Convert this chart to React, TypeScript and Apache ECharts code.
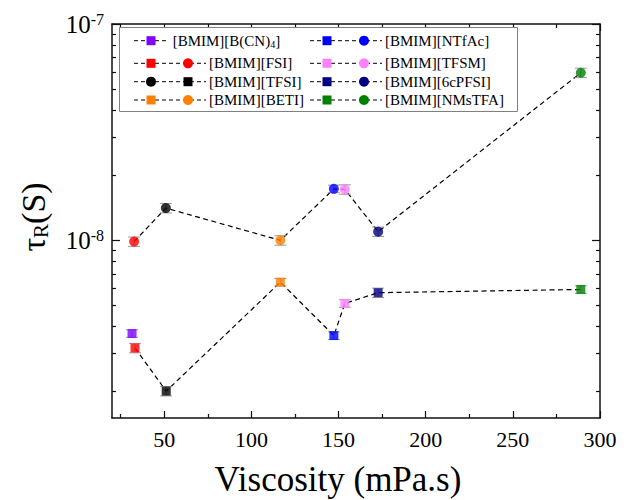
import React, { useEffect, useRef } from 'react';
import * as echarts from 'echarts';

// ---------- data ----------
const compounds = ['[BMIM][B(CN)4]', '[BMIM][FSI]', '[BMIM][TFSI]', '[BMIM][BETI]', '[BMIM][NTfAc]', '[BMIM][TFSM]', '[BMIM][6cPFSI]', '[BMIM][NMsTFA]'];
const colors = ['#8000FF', '#FF0000', '#000000', '#FF8000', '#0000FF', '#FF80FF', '#000080', '#008000'];
// square markers (lower branch)
const squareViscosity = [31.5, 33.2, 51.1, 116.6, 147.3, 153.6, 172.7, 289];
const squareTau = [3.71e-9, 3.18e-9, 2.01e-9, 6.41e-9, 3.63e-9, 5.11e-9, 5.73e-9, 5.93e-9];
const squareErr = [0.04, 0.05, 0.05, 0.04, 0.04, 0.04, 0.05, 0.04];
// circle markers (upper branch)
const circleViscosity = [null, 32.7, 50.9, 116.6, 147.3, 153.6, 172.7, 289];
const circleTau = [null, 9.87e-9, 1.41e-8, 1.0e-8, 1.73e-8, 1.72e-8, 1.097e-8, 5.95e-8];
const circleErr = [null, 0.05, 0.05, 0.05, 0.04, 0.05, 0.05, 0.05];
// axes
const xMin = 20;
const xMax = 300;
const xMajorTicks = [50, 100, 150, 200, 250, 300];
const xMinorTicks = [25, 75, 125, 175, 225, 275];
const yMin = 1.51e-9;
const yMax = 1e-7;
const yMajorTicks = [1e-8, 1e-7];
const yMinorTicks = [2e-9, 3e-9, 4e-9, 5e-9, 6e-9, 7e-9, 8e-9, 9e-9, 2e-8, 3e-8, 4e-8, 5e-8, 6e-8, 7e-8, 8e-8, 9e-8];
const xTitle = 'Viscosity (mPa.s)';

const FONT = "'Liberation Serif', 'Times New Roman', serif";
const lg = (v: number) => Math.log10(v);

export default function App() {
  const ref = useRef<HTMLDivElement>(null);
  useEffect(() => {
    if (!ref.current) return;
    const chart = echarts.init(ref.current, null, { renderer: 'svg' });

    const axisLine = { show: true, onZero: false, lineStyle: { color: '#111', width: 1.5 } };
    const tickStyle = { color: '#111', width: 1.2 };
    const mkX = (pos: string, major: boolean, labels: boolean) => ({
      type: 'value', gridIndex: 0, position: pos, min: xMin, max: xMax,
      axisLine: major ? axisLine : { show: false, onZero: false },
      axisTick: { show: true, inside: true, length: major ? 7 : 4, lineStyle: tickStyle, customValues: major ? xMajorTicks : xMinorTicks },
      axisLabel: labels
        ? {
            show: true, customValues: xMajorTicks, margin: 9,
            formatter: (v: number) => `{d|${v}}`,
            rich: { d: { fontFamily: FONT, fontSize: 22, lineHeight: 24, color: '#000' } },
          }
        : { show: false },
      splitLine: { show: false },
    });
    const mkY = (pos: string, major: boolean, labels: boolean) => ({
      type: 'value', gridIndex: 0, position: pos, min: lg(yMin), max: lg(yMax),
      axisLine: major ? axisLine : { show: false, onZero: false },
      axisTick: { show: true, inside: true, length: major ? 8 : 4, lineStyle: tickStyle, customValues: (major ? yMajorTicks : yMinorTicks).map(lg) },
      axisLabel: labels
        ? {
            show: true,
            customValues: yMajorTicks.map(lg),
            margin: 8,
            formatter: (v: number) => `{b|10}{s|${Math.round(v)}}`,
            rich: {
              b: { fontFamily: FONT, fontSize: 25, lineHeight: 26, color: '#000', padding: [4, 0, 0, 0], verticalAlign: 'bottom' },
              s: { fontFamily: FONT, fontSize: 16, lineHeight: 16, color: '#000', verticalAlign: 'top' },
            },
          }
        : { show: false },
      splitLine: { show: false },
    });

    // series data
    const lowerLine: number[][] = [];
    const upperLine: number[][] = [];
    const squares: any[] = [];
    const circles: any[] = [];
    const errs: number[][] = [];
    compounds.forEach((_, i) => {
      const sx = squareViscosity[i];
      const sy = squareTau[i];
      squares.push({ value: [sx, lg(sy)], itemStyle: { color: colors[i] } });
      errs.push([sx, lg(sy * (1 - squareErr[i])), lg(sy * (1 + squareErr[i]))]);
      if (i > 0) lowerLine.push([sx, lg(sy)]);
      const cx = circleViscosity[i];
      const cy = circleTau[i];
      if (cx != null && cy != null) {
        circles.push({ value: [cx, lg(cy)], itemStyle: { color: colors[i] } });
        upperLine.push([cx, lg(cy)]);
        errs.push([cx, lg(cy * (1 - (circleErr[i] as number))), lg(cy * (1 + (circleErr[i] as number)))]);
      }
    });

    const dashed = { color: '#000', width: 1.2, type: [5, 3.5] };

    // legend drawn as graphic
    const rowY = [40.7, 63.3, 81.7, 100];
    const legendEls: any[] = [
      { type: 'rect', shape: { x: 119.5, y: 27.5, width: 398, height: 84 }, style: { fill: '#fff', stroke: '#808080', lineWidth: 1 }, z: 10 },
    ];
    compounds.forEach((name, i) => {
      const col = i < 4 ? 0 : 1;
      const y = rowY[i % 4];
      const x0 = col ? 310 : 134;
      const onlySquare = i === 0;
      const lineEnd = onlySquare ? x0 + 34 : x0 + 72;
      legendEls.push({ type: 'line', shape: { x1: x0, y1: y, x2: lineEnd, y2: y }, style: { stroke: '#000', lineWidth: 1, lineDash: [4, 3] }, z: 11 });
      const sqX = i === 2 ? x0 + 54 : x0 + 17;
      const ciX = i === 2 ? x0 + 17 : x0 + 54;
      legendEls.push({ type: 'rect', shape: { x: sqX - 4.5, y: y - 4.5, width: 9, height: 9 }, style: { fill: colors[i] }, z: 12 });
      if (!onlySquare) legendEls.push({ type: 'circle', shape: { cx: ciX, cy: y, r: 5 }, style: { fill: colors[i] }, z: 12 });
      const text = onlySquare ? '{n|[BMIM][B(CN)}{s|4}{n|]}' : `{n|${name}}`;
      legendEls.push({
        type: 'text', x: onlySquare ? 172.7 : x0 + 75, y: y, z: 12,
        style: {
          text, textAlign: 'left', textVerticalAlign: 'middle',
          rich: {
            n: { fontFamily: FONT, fontSize: 15, lineHeight: 18, fill: '#000', verticalAlign: 'middle' },
            s: { fontFamily: FONT, fontSize: 10, lineHeight: 10, fill: '#000', padding: [12, 0, 0, 0], verticalAlign: 'bottom' },
          },
        },
      });
    });

    const option: any = {
      animation: false,
      backgroundColor: '#fff',
      textStyle: { fontFamily: FONT },
      grid: { left: 112, right: 24, top: 24, bottom: 82, containLabel: false, outerBoundsMode: 'none' },
      xAxis: [mkX('bottom', true, true), mkX('bottom', false, false), mkX('top', true, false), mkX('top', false, false)],
      yAxis: [mkY('left', true, true), mkY('left', false, false), mkY('right', true, false), mkY('right', false, false)],
      series: [
        { type: 'line', data: upperLine, symbol: 'none', lineStyle: dashed, z: 2, silent: true },
        { type: 'line', data: lowerLine, symbol: 'none', lineStyle: dashed, z: 2, silent: true },
        {
          type: 'custom', data: errs, z: 3, silent: true,
          encode: { x: 0, y: [1, 2] },
          renderItem: (params: any, api: any) => {
            const x = api.value(0);
            const pLo = api.coord([x, api.value(1)]);
            const pHi = api.coord([x, api.value(2)]);
            const w = 6;
            const st = { stroke: '#9a9a9a', lineWidth: 1 };
            return {
              type: 'group',
              children: [
                { type: 'line', shape: { x1: pLo[0], y1: pLo[1], x2: pHi[0], y2: pHi[1] }, style: st },
                { type: 'line', shape: { x1: pLo[0] - w, y1: pLo[1], x2: pLo[0] + w, y2: pLo[1] }, style: st },
                { type: 'line', shape: { x1: pHi[0] - w, y1: pHi[1], x2: pHi[0] + w, y2: pHi[1] }, style: st },
              ],
            };
          },
        },
        { type: 'scatter', data: squares, symbol: 'rect', symbolSize: 9, z: 4 },
        { type: 'scatter', data: circles, symbol: 'circle', symbolSize: 10, z: 4 },
      ],
      graphic: [
        ...legendEls,
        {
          type: 'text', x: 338, y: 479,
          style: { text: xTitle, fontFamily: FONT, fontSize: 35, fill: '#000', textAlign: 'center', textVerticalAlign: 'middle' },
        },
        {
          type: 'text', x: 33, y: 217, rotation: Math.PI / 2,
          style: {
            text: '{t|τ}{r|R}{t|(S)}', textAlign: 'center', textVerticalAlign: 'middle',
            rich: {
              t: { fontFamily: FONT, fontSize: 34, lineHeight: 36, fill: '#000', verticalAlign: 'middle' },
              r: { fontFamily: FONT, fontSize: 21, lineHeight: 22, fill: '#000', padding: [38, 0, 0, 0], verticalAlign: 'bottom' },
            },
          },
        },
      ],
    };
    chart.setOption(option);
    return () => chart.dispose();
  }, []);
  return <div ref={ref} style={{ position: 'fixed', left: 0, top: 0, width: 624, height: 500, background: '#fff' }} />;
}
